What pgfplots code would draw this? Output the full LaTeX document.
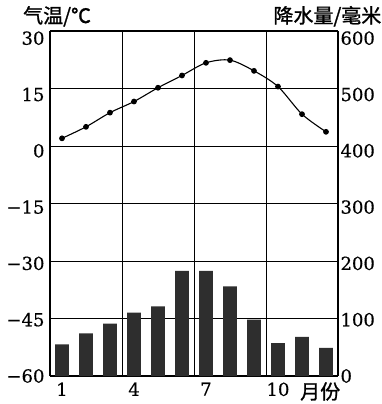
\documentclass[border=0pt]{standalone}
\usepackage{pgfplots}
\pgfplotsset{compat=1.18}
\usepackage{fontspec}
\setmainfont{DejaVu Serif}[FakeBold=0.5]
\newfontfamily\cjk{Noto Sans CJK SC}[FakeBold=1.2]
\begin{document}
\begin{tikzpicture}[x=1pt,y=1pt]
\useasboundingbox (-50,-28) rectangle (332,376);
\begin{axis}[
  at={(0,0)}, anchor=south west,
  scale only axis, width=288pt, height=345pt,
  xmin=0.5, xmax=12.5, ymin=0, ymax=600,
  axis y line*=right,
  ytick={0,100,200,300,400,500,600},
  yticklabels={0,100,200,300,400,500,600},
  xtick={1,4,7,10}, xticklabels={1,4,7,10},
  extra x ticks={3.5,6.5,9.5}, extra x tick labels={},
  extra x tick style={grid=major},
  ymajorgrids,
  major grid style={black, line width=0.9pt},
  major tick length=0pt,
  tick label style={font=\fontsize{18}{18}\selectfont},
  xticklabel style={yshift=-3pt},
  yticklabel style={xshift=-1pt, yshift={-1.2*\ticknum}},
  axis line style={line width=1.2pt},
]
\addplot[ybar, bar width=0.58, bar shift=0pt, fill=black!82, draw=none] coordinates {
(1,55) (2,74) (3,91) (4,110) (5,121) (6,183) (7,183) (8,156) (9,98) (10,57) (11,68) (12,49)};
\end{axis}
\begin{axis}[
  at={(0,0)}, anchor=south west,
  scale only axis, width=288pt, height=345pt,
  xmin=0.5, xmax=12.5, ymin=-60, ymax=30,
  axis y line*=left, hide x axis,
  ytick={-60,-45,-30,-15,0,15,30},
  yticklabels={−60,−45,−30,−15,0,15,30},
  major tick length=0pt,
  tick label style={font=\fontsize{18}{18}\selectfont},
  yticklabel style={xshift=-2pt, yshift={-1.2*\ticknum}},
  axis line style={line width=1.2pt},
]
\addplot[black, line width=1.1pt, smooth, mark=*, mark size=2.3pt] coordinates {
(1,2) (2,5) (3,8.7) (4,11.6) (5,15.2) (6,18.4) (7,21.7) (8,22.4) (9,19.6) (10,15.5) (11,8.3) (12,3.7)};
\end{axis}
\node[anchor=base west, inner sep=0, font=\cjk\fontsize{20}{20}\selectfont] at (-27,353) {气温/℃};
\node[anchor=base east, inner sep=0, font=\cjk\fontsize{20}{20}\selectfont] at (331.5,353) {降水量/毫米};
\node[anchor=base west, inner sep=0, font=\cjk\fontsize{20}{20}\selectfont] at (250,-23) {月份};
\end{tikzpicture}
\end{document}
